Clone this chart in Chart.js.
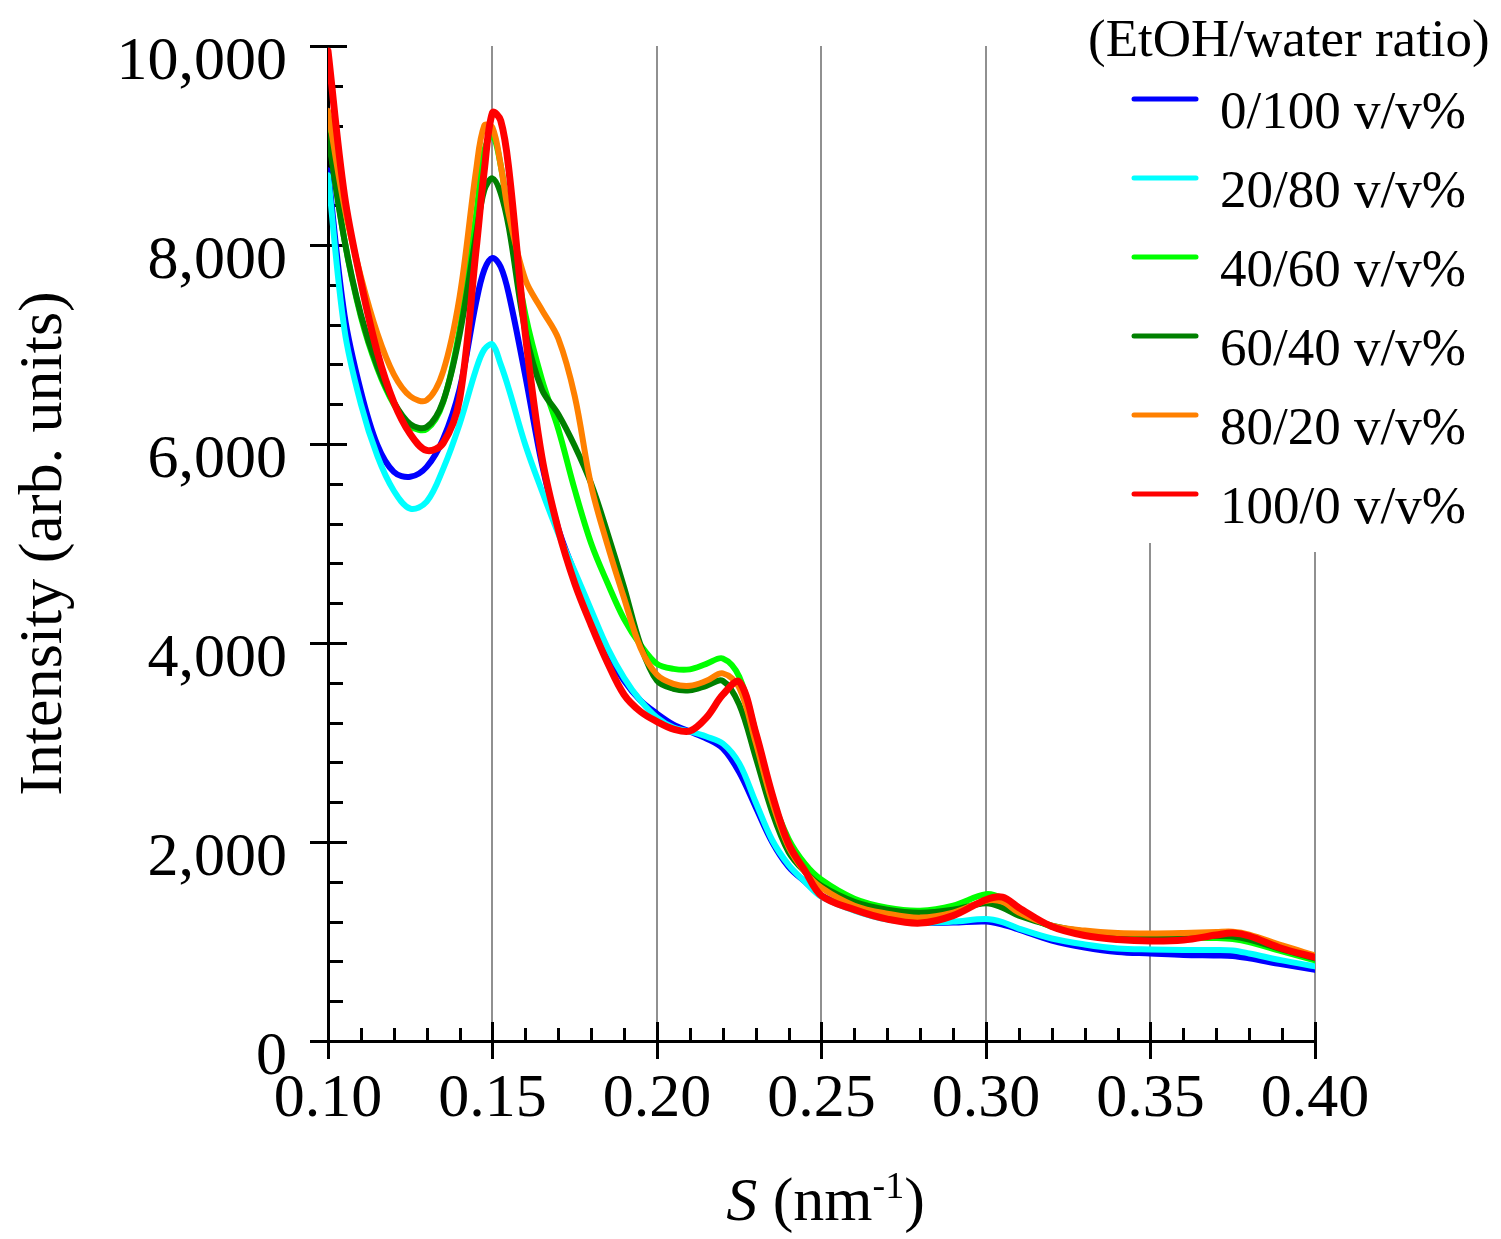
<!DOCTYPE html>
<html>
<head>
<meta charset="utf-8">
<script src="https://cdn.jsdelivr.net/npm/chart.js@4.4.1/dist/chart.umd.min.js"></script>
<style>
    html, body { margin: 0; padding: 0; background: #fff; }
    #wrap { width: 1501px; height: 1239px; position: relative; }
</style>
</head>
<body>
<div id="wrap"><canvas id="saxsChart"></canvas></div>
<script>
// scattering vector S (nm^-1), shared by all series
const sValues = [0.100, 0.105, 0.110, 0.115, 0.120, 0.125, 0.130, 0.135, 0.140, 0.145,
    0.1475, 0.150, 0.1525,
    0.155, 0.160, 0.165, 0.170, 0.175, 0.180, 0.185, 0.190, 0.195, 0.200,
    0.205, 0.210, 0.215, 0.220, 0.225, 0.230, 0.235, 0.240, 0.245, 0.250,
    0.260, 0.270, 0.280, 0.290, 0.300, 0.305, 0.310, 0.320, 0.330, 0.340,
    0.350, 0.360, 0.370, 0.375, 0.380, 0.390, 0.400];

// intensity (arb. units), one array per EtOH/water ratio
const etoh0 = [8750, 7300, 6530, 5990, 5720, 5670, 5770, 6050, 6550, 7420,
    7750, 7870, 7780,
    7500, 6680, 5800, 5150, 4700, 4250, 3900, 3620, 3420, 3290,
    3180, 3110, 3040, 2940, 2700, 2350, 2000, 1750, 1600, 1460,
    1330, 1230, 1190, 1190, 1200, 1170, 1120, 1010, 940, 895,
    880, 865, 860, 855, 830, 770, 715];
const etoh20 = [8700, 7150, 6400, 5880, 5530, 5350, 5420, 5750, 6200, 6750,
    6950, 7000, 6800,
    6550, 5990, 5530, 5100, 4720, 4330, 3950, 3650, 3420, 3250,
    3150, 3110, 3060, 2990, 2790, 2400, 2020, 1770, 1600, 1450,
    1310, 1220, 1190, 1200, 1225, 1195, 1130, 1030, 970, 930,
    920, 915, 915, 910, 880, 810, 750];
const etoh40 = [9150, 8050, 7280, 6760, 6400, 6180, 6150, 6420, 7150, 8300,
    8950, 9100, 8800,
    8250, 7300, 6650, 6150, 5540, 5000, 4600, 4240, 3980, 3790,
    3740, 3735, 3790, 3845, 3660, 3100, 2450, 2030, 1780, 1620,
    1430, 1340, 1310, 1360, 1475, 1430, 1300, 1150, 1090, 1065,
    1050, 1040, 1035, 1025, 995, 900, 810];
const etoh60 = [9100, 8050, 7300, 6780, 6420, 6200, 6170, 6430, 7100, 8100,
    8550, 8670, 8520,
    8170, 7130, 6550, 6300, 5980, 5600, 5100, 4560, 3980, 3620,
    3540, 3525, 3570, 3620, 3380, 2850, 2300, 1900, 1700, 1560,
    1400, 1320, 1290, 1320, 1385, 1340, 1260, 1160, 1100, 1075,
    1060, 1055, 1055, 1050, 1020, 920, 830];
const etoh80 = [9350, 8380, 7680, 7110, 6700, 6480, 6440, 6730, 7480, 8750,
    9200, 9180, 8800,
    8300, 7650, 7350, 7060, 6480, 5580, 4980, 4450, 3950, 3680,
    3590, 3570, 3620, 3695, 3550, 3000, 2400, 1950, 1700, 1540,
    1360, 1280, 1240, 1290, 1410, 1400, 1290, 1160, 1110, 1085,
    1080, 1085, 1095, 1098, 1070, 960, 860];
const etoh100 = [9950, 8500, 7630, 6920, 6420, 6100, 5935, 6010, 6450, 7950,
    8750, 9330, 9250,
    8750, 7100, 5870, 5140, 4600, 4180, 3800, 3480, 3310, 3210,
    3135, 3115, 3250, 3480, 3610, 3100, 2480, 1980, 1710, 1460,
    1320, 1225, 1185, 1260, 1420, 1445, 1340, 1150, 1060, 1020,
    1005, 1015, 1065, 1085, 1055, 930, 840];

const seriesLabels = ['0/100 v/v%', '20/80 v/v%', '40/60 v/v%', '60/40 v/v%', '80/20 v/v%', '100/0 v/v%'];
const seriesValues = [etoh0, etoh20, etoh40, etoh60, etoh80, etoh100];
const seriesColors = ['#0000ff', '#00ffff', '#00ff00', '#008000', '#ff8000', '#ff0000'];

const xTicks = [0.10, 0.15, 0.20, 0.25, 0.30, 0.35, 0.40];
const yTicks = [0, 2000, 4000, 6000, 8000, 10000];

const FONT = "'Liberation Serif', 'Times New Roman', serif";

function withCommas(v) {
    return String(v).replace(/\B(?=(\d{3})+(?!\d))/g, ',');
}

// tick marks, legend box and x title are drawn by hand
const decor = {
    id: 'decor',
    beforeDatasetsDraw(chart) {
        const { ctx, chartArea: a, scales: { x, y } } = chart;
        ctx.save();
        // legend sits on a white box that hides the grid lines
        ctx.fillStyle = '#fff';
        ctx.fillRect(1100, 0, 401, 543);
        ctx.fillRect(1230, 0, 271, 552);

        ctx.strokeStyle = '#000';
        ctx.lineWidth = 3;
        ctx.beginPath();
        for (let v = 0; v <= 10000; v += 400) {
            const py = Math.round(y.getPixelForValue(v)) + 0.5;
            const major = v % 2000 === 0;
            ctx.moveTo(major ? a.left - 18 : a.left, py);
            ctx.lineTo(a.left + (major ? 19 : 15), py);
        }
        for (let i = 10; i <= 40; i++) {
            const px = Math.round(x.getPixelForValue(i / 100)) + 0.5;
            const major = i % 5 === 0;
            ctx.moveTo(px, a.bottom + (major ? 18 : 0));
            ctx.lineTo(px, a.bottom - (major ? 19 : 13));
        }
        ctx.stroke();
        ctx.restore();
    },
    afterDraw(chart) {
        const { ctx, chartArea: a } = chart;
        ctx.save();
        ctx.fillStyle = '#000';
        ctx.textAlign = 'left';
        ctx.textBaseline = 'alphabetic';
        ctx.font = `53px ${FONT}`;
        ctx.fillText('(EtOH/water ratio)', 1088, 56);

        seriesLabels.forEach((label, i) => {
            const ly = 99 + i * 79;
            ctx.strokeStyle = seriesColors[i];
            ctx.lineWidth = 5;
            ctx.lineCap = 'round';
            ctx.beginPath();
            ctx.moveTo(1134, ly);
            ctx.lineTo(1196, ly);
            ctx.stroke();
            ctx.fillText(label, 1220, ly + 29);
        });

        // x title: italic S and a raised -1
        const parts = [
            { t: 'S', f: `italic 62px ${FONT}`, dy: 0 },
            { t: ' (nm', f: `62px ${FONT}`, dy: 0 },
            { t: '-1', f: `38px ${FONT}`, dy: -22 },
            { t: ')', f: `62px ${FONT}`, dy: 0 }
        ];
        let total = 0;
        parts.forEach(p => { ctx.font = p.f; p.w = ctx.measureText(p.t).width; total += p.w; });
        let tx = (a.left + a.right) / 2 + 4 - total / 2;
        parts.forEach(p => {
            ctx.font = p.f;
            ctx.fillText(p.t, tx, 1220 + p.dy);
            tx += p.w;
        });
        ctx.restore();
    }
};

const drawOrder = [5, 4, 3, 2, 1, 0];

const ctx = document.getElementById('saxsChart').getContext('2d');
const saxsChart = new Chart(ctx, {
    type: 'line',
    data: {
        datasets: seriesValues.map((vals, i) => ({
            label: seriesLabels[i],
            data: sValues.map((s, j) => ({ x: s, y: vals[j] })),
            borderColor: seriesColors[i],
            borderWidth: i === 5 ? 7 : 6,
            order: drawOrder[i],
            fill: false
        }))
    },
    options: {
        responsive: true,
        maintainAspectRatio: false,
        animation: false,
        layout: { padding: { left: 0, top: 46, right: 186, bottom: 0 } },
        elements: {
            point: { radius: 0 },
            line: { tension: 0.35, borderCapStyle: 'round', borderJoinStyle: 'round' }
        },
        plugins: {
            legend: { display: false },
            tooltip: { enabled: false }
        },
        scales: {
            x: {
                type: 'linear',
                min: 0.1,
                max: 0.4,
                afterFit: s => {
                    s.height = 198;
                    s.paddingLeft = 0;
                    s.paddingRight = 0;
                },
                afterBuildTicks: s => { s.ticks = xTicks.map(v => ({ value: v })); },
                ticks: {
                    callback: v => v.toFixed(2),
                    font: { family: FONT, size: 62 },
                    color: '#000',
                    padding: 22,
                    maxRotation: 0,
                    autoSkip: false
                },
                grid: {
                    drawTicks: false,
                    lineWidth: 2,
                    color: c => (c.tick && c.tick.value > 0.101 ? '#909090' : 'rgba(0,0,0,0)')
                },
                border: { display: true, color: '#000', width: 3 }
            },
            y: {
                type: 'linear',
                min: 0,
                max: 10000,
                afterFit: s => {
                    s.width = 328;
                    s.paddingTop = 0;
                    s.paddingBottom = 0;
                },
                afterBuildTicks: s => { s.ticks = yTicks.map(v => ({ value: v })); },
                ticks: {
                    callback: v => withCommas(v),
                    font: { family: FONT, size: 62 },
                    color: '#000',
                    padding: 41,
                    labelOffset: 17
                },
                grid: { drawOnChartArea: false, drawTicks: false },
                border: { display: true, color: '#000', width: 3 },
                title: {
                    display: true,
                    text: 'Intensity (arb. units)',
                    font: { family: FONT, size: 62 },
                    color: '#000',
                    padding: { top: 8, bottom: 0 }
                }
            }
        }
    },
    plugins: [decor]
});
</script>
</body>
</html>
